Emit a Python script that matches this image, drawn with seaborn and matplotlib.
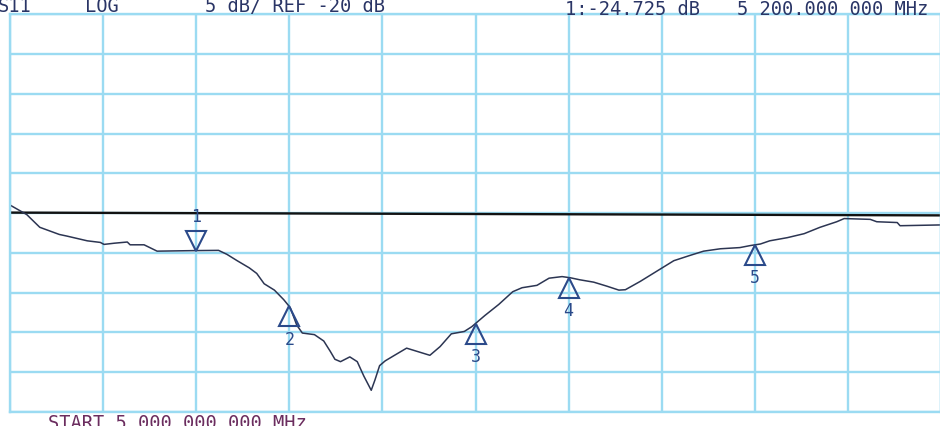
import numpy as np
import pandas as pd
import matplotlib
matplotlib.use("Agg")
import matplotlib.pyplot as plt
import seaborn as sns
from matplotlib.transforms import offset_copy

# ---- data (S11, LOG, 5 dB/div, REF -20 dB) ----
freq_mhz = [5000, 5018, 5032, 5053, 5061, 5083, 5097, 5101, 5112, 5126,
            5129, 5144, 5158, 5198, 5224, 5233, 5244, 5257, 5265, 5273,
            5284, 5294, 5301, 5308, 5314, 5327, 5337, 5344, 5349, 5355,
            5365, 5373, 5380, 5388, 5392, 5397, 5403, 5413, 5426, 5451,
            5462, 5474, 5488, 5496, 5510, 5525, 5540, 5550, 5566, 5579,
            5593, 5602, 5612, 5627, 5641, 5654, 5661, 5677, 5695, 5713,
            5730, 5745, 5763, 5784, 5795, 5806, 5816, 5835, 5853, 5870,
            5888, 5896, 5924, 5931, 5953, 5956, 6000]
s11_db = [-19.0, -20.2, -21.8, -22.7, -22.9, -23.5, -23.7, -23.95, -23.8, -23.65,
          -24.0, -24.0, -24.8, -24.73, -24.7, -25.2, -26.0, -26.9, -27.6, -28.9,
          -29.7, -30.9, -31.9, -34.1, -35.1, -35.3, -36.1, -37.4, -38.4, -38.7,
          -38.1, -38.7, -40.5, -42.3, -41.0, -39.2, -38.6, -37.9, -37.0, -37.9,
          -36.8, -35.2, -34.9, -34.3, -32.9, -31.5, -29.9, -29.4, -29.1, -28.2,
          -28.0, -28.15, -28.4, -28.7, -29.2, -29.7, -29.65, -28.6, -27.3, -26.0,
          -25.35, -24.8, -24.5, -24.35, -24.1, -23.9, -23.5, -23.1, -22.6, -21.8,
          -21.1, -20.7, -20.8, -21.1, -21.2, -21.6, -21.5]

limit_freq_mhz = [5000, 6000]
limit_db = [-19.95, -20.3]

marker_freq_mhz = [5200, 5300, 5500, 5600, 5800]
marker_labels = ["1", "2", "3", "4", "5"]
active_marker = "1"

start_mhz, stop_mhz = 5000, 6000
ref_db, db_per_div = -20, 5
header_left = ["S11", "LOG", "5 dB/ REF -20 dB"]
header_right = ["1:-24.725 dB", "5 200.000 000 MHz"]
footer = "START 5 000.000 000 MHz"

# ---- styling ----
GRID = "#9bdbf2"
TRACE = "#2c3552"
MARK = "#2b4a8a"
TXT = "#2a3566"
FOOT = "#6b2d5f"
MONO = "DejaVu Sans Mono"

sns.set_theme(style="white")
plt.rcParams["font.family"] = [MONO, "DejaVu Sans"]

W, H = 940, 426
fig = plt.figure(figsize=(W / 100, H / 100), dpi=100)
fig.patch.set_facecolor("white")
ax = fig.add_axes([10 / W, 1 - 411.75 / H, 931 / W, 397.5 / H])
ax.set_facecolor("white")

ax.set_xlim(start_mhz, stop_mhz)
ax.set_ylim(ref_db - 5 * db_per_div, ref_db + 5 * db_per_div)
ax.set_xticks(np.arange(start_mhz, stop_mhz + 1, 100))
ax.set_yticks(np.arange(ref_db - 5 * db_per_div, ref_db + 5 * db_per_div + 1, db_per_div))
ax.grid(True, color=GRID, lw=1.7)
ax.tick_params(length=0, labelbottom=False, labelleft=False)
for s in ax.spines.values():
    s.set_color(GRID)
    s.set_linewidth(1.7)

trace = pd.DataFrame({"freq": freq_mhz, "db": s11_db})
limit = pd.DataFrame({"freq": limit_freq_mhz, "db": limit_db})
sns.lineplot(data=limit, x="freq", y="db", ax=ax, color="#121212", lw=1.7, estimator=None)
sns.lineplot(data=trace, x="freq", y="db", ax=ax, color=TRACE, lw=1.1, estimator=None)
ax.set_xlabel("")
ax.set_ylabel("")

# markers
for f, lab in zip(marker_freq_mhz, marker_labels):
    y = float(np.interp(f, freq_mhz, s11_db))
    down = lab == active_marker
    tr = offset_copy(ax.transData, fig=fig, x=0, y=7.2 if down else -7.2, units="points")
    ax.plot([f], [y], marker="v" if down else "^", ms=14, mfc="none", mec=MARK,
            mew=1.5, transform=tr, clip_on=False, zorder=5)
    ax.annotate(lab, (f, y), xytext=(0, 24 if down else -24), textcoords="offset points",
                ha="center", va="center", color=MARK, fontsize=12, family=[MONO])

# header / footer texts (pixel positions)
def ptext(x, y, s, color, size=13.5):
    fig.text(x / W, 1 - y / H, s, color=color, fontsize=size, family=[MONO],
             ha="left", va="baseline")

ptext(-2, 12, header_left[0], TXT)
ptext(85, 12, header_left[1], TXT)
ptext(205, 12, header_left[2], TXT)
ptext(565, 15, header_right[0], TXT)
ptext(737, 15, header_right[1], TXT)
ptext(48, 429, footer, FOOT)

fig.savefig("out.png", dpi=100, facecolor="white")
